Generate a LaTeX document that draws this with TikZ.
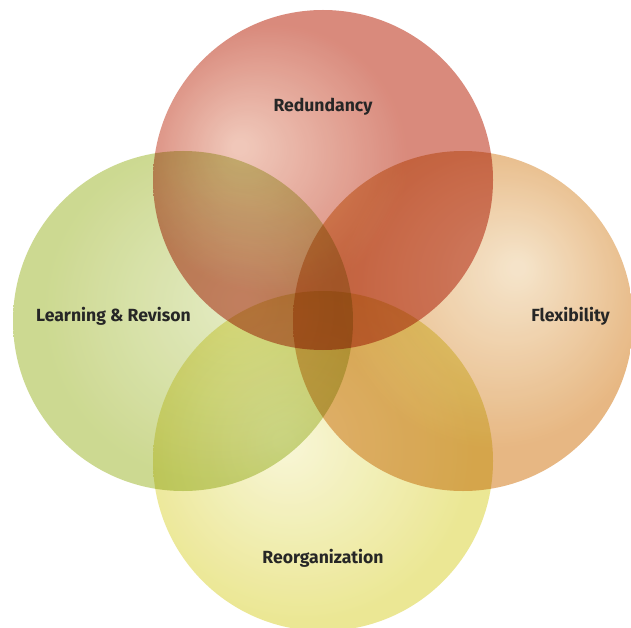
\documentclass[tikz,border=0pt]{standalone}
\usepackage{fontspec}
\setmainfont{Fira Sans}

% soft radial fills, lit a little off centre (25bp = circle radius)
\definecolor{redhi}{RGB}{238,192,176}
\definecolor{redlo}{RGB}{212,122,106}
\definecolor{orangehi}{RGB}{244,224,194}
\definecolor{orangelo}{RGB}{228,174,114}
\definecolor{greenhi}{RGB}{224,232,186}
\definecolor{greenlo}{RGB}{198,212,130}
\definecolor{yellowhi}{RGB}{247,245,208}
\definecolor{yellowlo}{RGB}{233,228,134}

\pgfdeclareradialshading{redball}{\pgfpoint{-12.6bp}{5bp}}{color(0bp)=(redhi); color(1bp)=(redhi); color(20bp)=(redlo); color(50bp)=(redlo)}
\pgfdeclareradialshading{orangeball}{\pgfpoint{8.2bp}{8bp}}{color(0bp)=(orangehi); color(1bp)=(orangehi); color(23bp)=(orangelo); color(50bp)=(orangelo)}
\pgfdeclareradialshading{greenball}{\pgfpoint{8.8bp}{3bp}}{color(0bp)=(greenhi); color(1bp)=(greenhi); color(25bp)=(greenlo); color(50bp)=(greenlo)}
\pgfdeclareradialshading{yellowball}{\pgfpoint{-6bp}{3bp}}{color(0bp)=(yellowhi); color(1bp)=(yellowhi); color(25bp)=(yellowlo); color(50bp)=(yellowlo)}

\tikzset{
  ring/.style={blend mode=multiply, fill opacity=0.88},
  label/.style={text=black!85, font=\fontsize{17.6}{20}\selectfont\bfseries, inner sep=0pt}
}

\begin{document}
\begin{tikzpicture}[x=1pt,y=-1pt]
\useasboundingbox (0,0) rectangle (631,628);
\fill[white] (0,0) rectangle (631,628);

% the four circles
\shade[ring, shading=redball] (323,180) circle[radius=170pt];
\shade[ring, shading=greenball] (183,321) circle[radius=170pt];
\shade[ring, shading=orangeball] (463,321) circle[radius=170pt];
\shade[ring, shading=yellowball] (323,461) circle[radius=170pt];

\node[label] (redundancy) at (323,107) {Redundancy};
\node[label, anchor=west] (learning) at (36,316) {Learning \& Revison};
\node[label, anchor=east] (flexibility) at (610,316) {Flexibility};
\node[label] (reorganization) at (323,558) {Reorganization};
\end{tikzpicture}
\end{document}
